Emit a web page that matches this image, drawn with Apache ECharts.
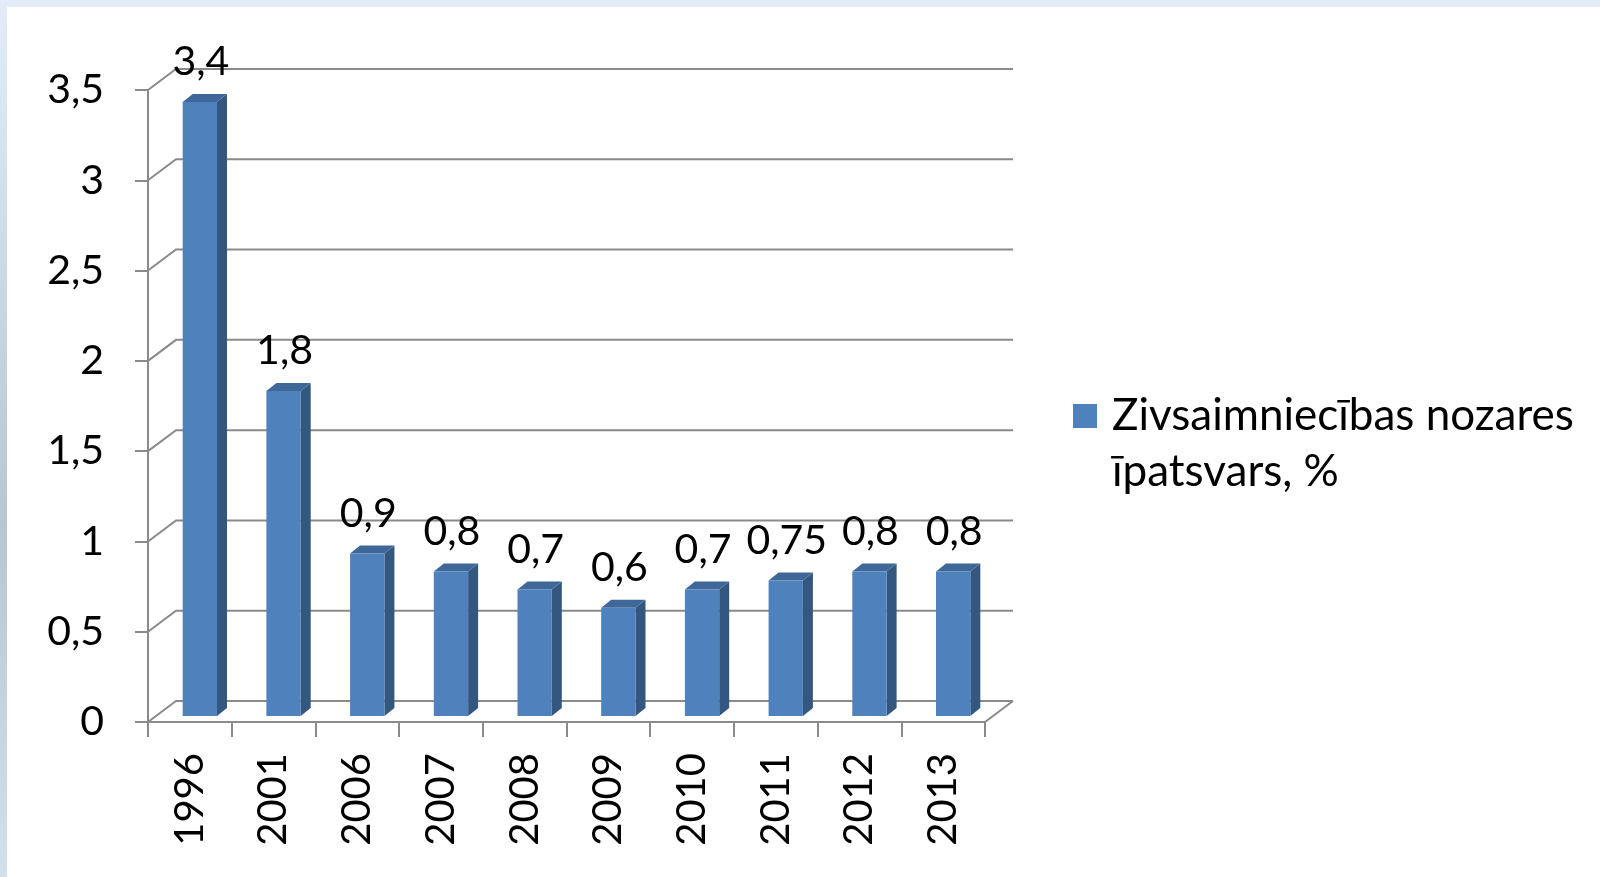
<!DOCTYPE html>
<html>
<head>
<meta charset="utf-8">
<script src="https://cdn.jsdelivr.net/npm/echarts@6/dist/echarts.min.js"></script>
<style>
html,body{margin:0;padding:0;width:1600px;height:877px;overflow:hidden;background:#e2edf9;}
#leftstrip{position:absolute;left:0;top:0;width:7px;height:877px;background:linear-gradient(#e2edf9,#c9d6e2 35%,#b9c6d2 60%,#d3dfeb);}
#paper{position:absolute;left:7px;top:7px;right:0;bottom:0;background:#ffffff;}
#chart{position:absolute;left:0;top:0;width:1600px;height:877px;}
</style>
</head>
<body>
<div id="leftstrip"></div>
<div id="paper"></div>
<div id="chart"></div>
<script>
const categories = ['1996','2001','2006','2007','2008','2009','2010','2011','2012','2013'];
const values = [3.4, 1.8, 0.9, 0.8, 0.7, 0.6, 0.7, 0.75, 0.8, 0.8];
const valueLabels = ['3,4','1,8','0,9','0,8','0,7','0,6','0,7','0,75','0,8','0,8'];
const yTicks = [0, 0.5, 1, 1.5, 2, 2.5, 3, 3.5];
const seriesName = 'Zivsaimniecības nozares īpatsvars, %';
const legendLines = ['Zivsaimniecības nozares', 'īpatsvars, %'];

const FONT = 'Lato';
const GRID_COLOR = '#8a8a8a';
const DEPTH_DX = 28, DEPTH_DY = -21;   // back wall offset
const BAR_DX = 10, BAR_DY = -6;        // bar placement inside depth
const SIDE_DX = 10, SIDE_DY = -8;      // bar thickness
const BAR_FRAC = 0.41;

const chart = echarts.init(document.getElementById('chart'), null, {renderer:'canvas'});

function gridItem(params, api) {
  const cs = params.coordSys;
  const p = api.coord([0, api.value(1)]);
  const y = p[1];
  const x0 = cs.x;
  const x1 = cs.x + cs.width;
  const children = [{
    type: 'polyline',
    shape: {points: [[x0, y], [x0 + DEPTH_DX, y + DEPTH_DY], [x1 + DEPTH_DX, y + DEPTH_DY]]},
    style: {stroke: GRID_COLOR, lineWidth: 2, fill: null}
  }];
  if (api.value(1) === 0) {
    children.push({
      type: 'line',
      shape: {x1: x1, y1: y, x2: x1 + DEPTH_DX, y2: y + DEPTH_DY},
      style: {stroke: GRID_COLOR, lineWidth: 2}
    });
  }
  return {type: 'group', children: children};
}

function barItem(params, api) {
  const i = api.value(0);
  const v = api.value(1);
  const base = api.coord([i, 0]);
  const top = api.coord([i, v]);
  const band = api.size([1, 0])[0];
  const w = band * BAR_FRAC;
  const xl = base[0] - w / 2 + BAR_DX;
  const xr = xl + w;
  const yb = base[1] + BAR_DY;
  const yt = top[1] + BAR_DY;
  return {
    type: 'group',
    children: [
      {type: 'polygon', shape: {points: [[xr, yt], [xr + SIDE_DX, yt + SIDE_DY], [xr + SIDE_DX, yb + SIDE_DY], [xr, yb]]},
        style: {fill: '#34577f'}},
      {type: 'polygon', shape: {points: [[xl, yt], [xl + SIDE_DX, yt + SIDE_DY], [xr + SIDE_DX, yt + SIDE_DY], [xr, yt]]},
        style: {fill: '#3f6898'}},
      {type: 'rect', shape: {x: xl, y: yt, width: w, height: yb - yt},
        style: {fill: '#4f81bd'}},
      {type: 'text', style: {text: valueLabels[i], x: (xl + xr) / 2 + 1, y: yt + SIDE_DY - 32,
        align: 'center', verticalAlign: 'middle', fontSize: 41, fontFamily: FONT, fill: '#000'}}
    ]
  };
}

chart.setOption({
  animation: false,
  backgroundColor: 'transparent',
  grid: {left: 148, right: 615, top: 90, bottom: 155, containLabel: false},
  legend: {
    data: [{name: seriesName, icon: 'rect'}],
    left: 1073, top: 332, padding: 0,
    itemWidth: 24, itemHeight: 24,
    formatter: function () { return '\n' + legendLines.join('\n'); },
    textStyle: {fontSize: 44, fontFamily: FONT, color: '#000', lineHeight: 56, padding: [0, 0, 0, 10]}
  },
  xAxis: {
    type: 'category', data: categories, boundaryGap: true,
    axisLine: {show: true, lineStyle: {color: GRID_COLOR, width: 2}},
    axisTick: {show: true, length: 15, lineStyle: {color: GRID_COLOR, width: 2}},
    axisLabel: {rotate: 90, margin: 31, fontSize: 40, fontFamily: FONT, color: '#000'},
    splitLine: {show: false}
  },
  yAxis: {
    type: 'value', min: 0, max: 3.5, interval: 0.5,
    axisLine: {show: true, lineStyle: {color: GRID_COLOR, width: 2}},
    axisTick: {show: true, inside: false, length: 13, lineStyle: {color: GRID_COLOR, width: 2}},
    axisLabel: {margin: 44, fontSize: 41, fontFamily: FONT, color: '#000',
      formatter: function (v) { return String(v).replace('.', ','); }},
    splitLine: {show: false}
  },
  series: [
    {
      name: 'grid3d', type: 'custom', silent: true, z: 1, clip: false,
      renderItem: gridItem,
      data: yTicks.map(function (v) { return [0, v]; })
    },
    {
      name: seriesName, type: 'custom', z: 3, clip: false,
      itemStyle: {color: '#4f81bd'},
      renderItem: barItem,
      encode: {x: 0, y: 1},
      data: values.map(function (v, i) { return [i, v]; })
    }
  ]
});
</script>
</body>
</html>
